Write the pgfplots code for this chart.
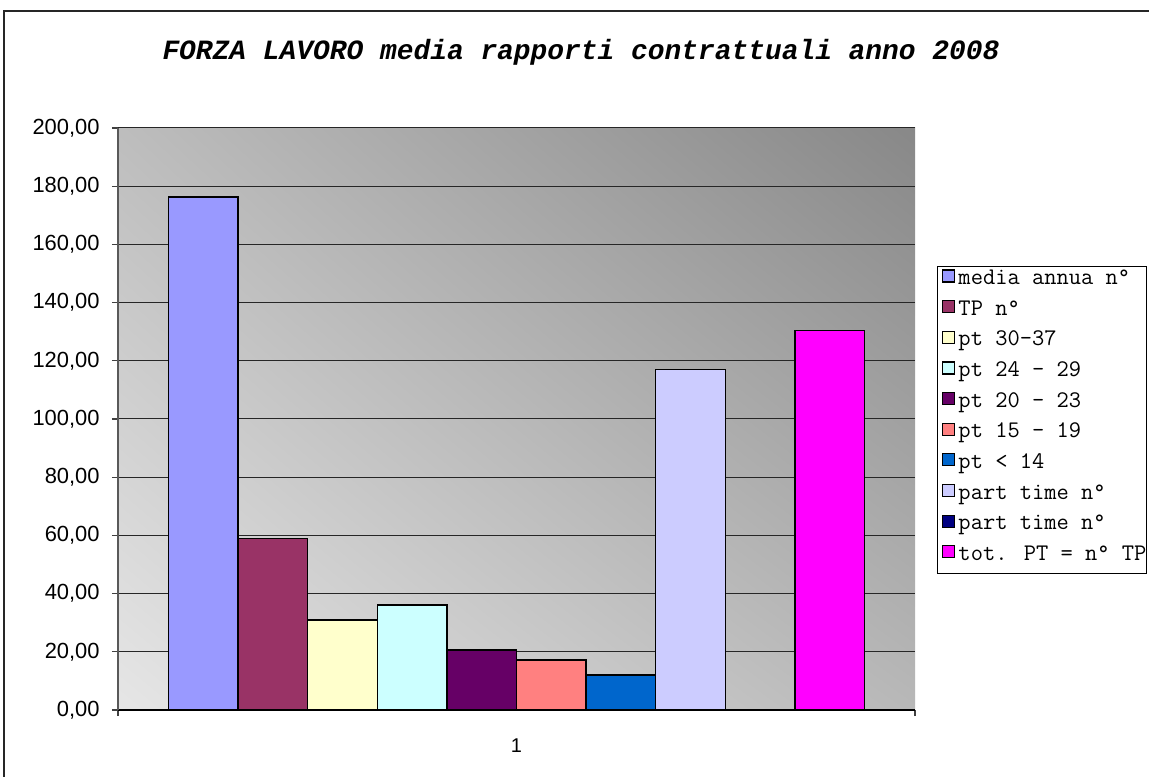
\documentclass[border=0pt]{standalone}
\usepackage{pgfplots}
\pgfplotsset{compat=1.18}
\usetikzlibrary{shadings}
\usepackage{fontspec}
\setmainfont{Liberation Sans}
\newfontfamily\mono{Liberation Mono}
\definecolor{c1}{HTML}{9999FF}
\definecolor{c2}{HTML}{993366}
\definecolor{c3}{HTML}{FFFFCC}
\definecolor{c4}{HTML}{CCFFFF}
\definecolor{c5}{HTML}{660066}
\definecolor{c6}{HTML}{FF8080}
\definecolor{c7}{HTML}{0066CC}
\definecolor{c8}{HTML}{CCCCFF}
\definecolor{c9}{HTML}{000080}
\definecolor{c10}{HTML}{FF00FF}
\definecolor{bgUL}{HTML}{BDBDBD}
\definecolor{bgUR}{HTML}{888888}
\definecolor{bgLL}{HTML}{E6E6E6}
\definecolor{bgLR}{HTML}{B8B8B8}
\begin{document}
\begin{tikzpicture}
\useasboundingbox (0,0) rectangle (574.5bp,388.5bp);
\clip (0,0) rectangle (574.5bp,388.5bp);
\fill[white] (0,0) rectangle (574.5bp,388.5bp);
\draw[line width=0.8bp, black!85] (2bp,-20bp) rectangle (600bp,383bp);
\node[font=\mono\bfseries\itshape\fontsize{14}{16}\selectfont] at (290.5bp,362.5bp) {FORZA LAVORO media rapporti contrattuali anno 2008};
\begin{axis}[
  at={(59bp,33.5bp)}, anchor=south west,
  scale only axis, width=398.5bp, height=291bp,
  xmin=0.5, xmax=1.5, ymin=0, ymax=200,
  ybar=0pt, bar width=34.8bp,
  axis x line*=bottom, axis y line*=left,
  axis line style={-, line width=0.8bp},
  y axis line style={black!65},
  axis background/.style={shade, upper left=bgUL, upper right=bgUR, lower left=bgLL, lower right=bgLR},
  ytick={0,20,...,200},
  ymajorgrids, grid style={black!85, line width=0.5bp},
  tick align=outside, major tick length=3bp,
  tick style={black!75, line width=0.6bp},
  xtick={0.5,1.5}, xticklabels={},
  extra x ticks={1}, extra x tick labels={1},
  extra x tick style={major tick length=0pt},
  xticklabel style={font=\fontsize{10}{12}\selectfont, inner sep=0pt, anchor=north, yshift=-14bp},
  yticklabel style={font=\fontsize{11}{13}\selectfont, inner sep=0pt, anchor=east, xshift=-6bp},
  /pgf/number format/assume math mode=true,
  /pgf/number format/.cd, fixed, fixed zerofill, precision=2, use comma, 1000 sep={},
  /pgfplots/.cd,
  legend image code/.code={\path[draw=none, fill=none] (0bp,0bp) rectangle (10.6bp,1bp); \draw[#1, line width=0.6bp] (2.5bp,0bp) rectangle (8.5bp,6bp);},
  legend style={at={(1.0272,0.7629)}, anchor=north west, font=\ttfamily\fontsize{11.95}{13}\selectfont, draw=black, line width=0.6bp, inner sep=0pt, row sep=0pt, column sep=0pt, nodes={inner sep=0pt, text height=9bp, text depth=6.33bp}, column 2/.style={text width=100bp}},
  legend cell align=left,
]
\addplot[fill=c1, draw=black, line width=0.75bp] coordinates {(1,176.3)};
\addplot[fill=c2, draw=black, line width=0.75bp] coordinates {(1,59.0)};
\addplot[fill=c3, draw=black, line width=0.75bp] coordinates {(1,31.0)};
\addplot[fill=c4, draw=black, line width=0.75bp] coordinates {(1,36.0)};
\addplot[fill=c5, draw=black, line width=0.75bp] coordinates {(1,20.6)};
\addplot[fill=c6, draw=black, line width=0.75bp] coordinates {(1,17.1)};
\addplot[fill=c7, draw=black, line width=0.75bp] coordinates {(1,12.1)};
\addplot[fill=c8, draw=black, line width=0.75bp] coordinates {(1,117.0)};
\addplot[fill=c9, draw=black, line width=0.75bp] coordinates {(1,0)};
\addplot[fill=c10, draw=black, line width=0.75bp] coordinates {(1,130.4)};
\legend{media annua n°, TP n°, pt 30-37, pt 24 - 29, pt 20 - 23, pt 15 - 19, pt < 14, part time n°, part time n°, tot. PT = n° TP}
\end{axis}
\end{tikzpicture}
\end{document}
